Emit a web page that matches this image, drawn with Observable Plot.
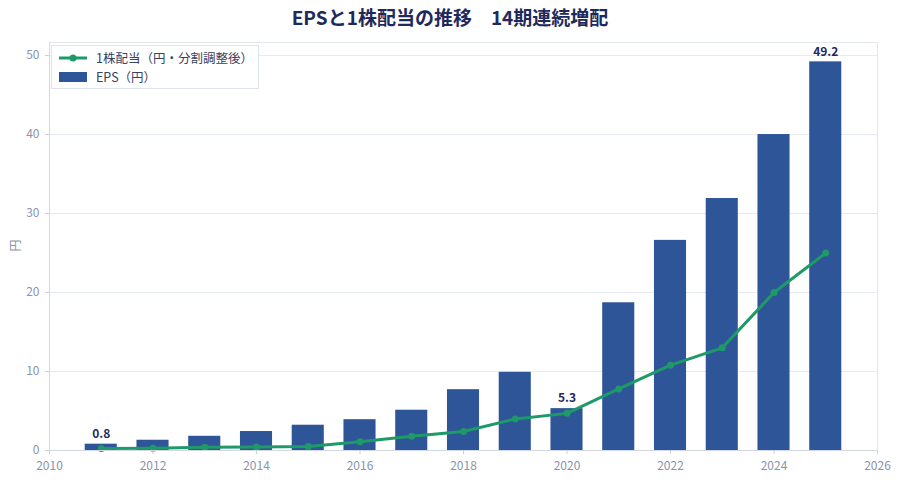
<!DOCTYPE html>
<html><head><meta charset="utf-8">
<script src="https://cdn.jsdelivr.net/npm/d3@7"></script>
<script src="https://cdn.jsdelivr.net/npm/@observablehq/plot@0.6"></script>
<style>
body{margin:0;background:#fff;font-family:"Noto Sans CJK JP","Noto Sans",sans-serif;}
#wrap{position:relative;width:900px;height:480px;}
#title{position:absolute;left:0;top:3px;width:900px;text-align:center;font-size:19px;font-weight:bold;color:#1f2a5c;}
#chart{position:absolute;left:0;top:30px;}
#legend{position:absolute;left:51px;top:45px;width:206px;height:42px;border:1px solid #dde2ec;background:#fff;font-size:12.5px;color:#3a4160;}
.li{position:absolute;left:5px;display:flex;align-items:center;}
</style></head>
<body><div id="wrap">
<div id="title">EPSと1株配当の推移　14期連続増配</div>
<div id="chart"></div>
<div id="legend">
 <div class="li" style="top:2px"><svg width="32" height="16"><line x1="2" x2="30" y1="8" y2="8" stroke="#1e9a68" stroke-width="3"/><circle cx="16" cy="8" r="3.5" fill="#1e9a68"/></svg><span style="margin-left:7px">1株配当（円・分割調整後）</span></div>
 <div class="li" style="top:21px"><svg width="32" height="16"><rect x="2" y="3" width="28" height="10" fill="#2e5597"/></svg><span style="margin-left:7px">EPS（円）</span></div>
</div>
</div>
<script>
const years = [2011,2012,2013,2014,2015,2016,2017,2018,2019,2020,2021,2022,2023,2024,2025];
const eps = [0.8,1.3,1.8,2.4,3.2,3.9,5.1,7.7,9.9,5.3,18.7,26.6,31.9,40.0,49.2];
const dividend = [0.25,0.3,0.4,0.45,0.5,1.1,1.8,2.4,4.0,4.7,7.8,10.8,13.0,20.0,25.0];
const labeledYears = [2011,2020,2025];
const xTicks = [2010,2012,2014,2016,2018,2020,2022,2024,2026];
const yTicks = [0,10,20,30,40,50];

const barData = years.map((y,i)=>({year:y, eps:eps[i]}));
const lineData = years.map((y,i)=>({year:y, div:dividend[i]}));
const labelData = barData.filter(d=>labeledYears.includes(d.year));

const plot = Plot.plot({
  width:900, height:450,
  marginLeft:49, marginRight:23, marginTop:12, marginBottom:30,
  style:{fontFamily:'"Noto Sans CJK JP","Noto Sans",sans-serif', fontSize:"12px", color:"#8a93ad"},
  x:{domain:[2010,2026], ticks:xTicks, tickFormat:d=>String(d), label:null, tickSize:4},
  y:{domain:[0,51.65], ticks:yTicks, label:null, tickSize:4},
  marks:[
    Plot.frame({stroke:"#e3e7f0"}),
    Plot.gridY(yTicks.slice(1), {stroke:"#e6eaf3", strokeOpacity:1}),
    Plot.rectY(barData, {x1:d=>d.year-0.31, x2:d=>d.year+0.31, y1:0, y2:"eps", fill:"#2e5597"}),
    Plot.line(lineData, {x:"year", y:"div", stroke:"#1e9a68", strokeWidth:3}),
    Plot.dot(lineData, {x:"year", y:"div", fill:"#1e9a68", r:3.5}),
    Plot.text(labelData, {x:"year", y:"eps", text:d=>d.eps.toFixed(1), dy:-10, fill:"#1f2a5c", fontWeight:"bold", fontSize:12}),
    Plot.ruleX([2010], {stroke:"#d3d8e4"}),
    Plot.ruleY([0], {stroke:"#d3d8e4"}),
    Plot.axisX({ticks:xTicks, tickFormat:d=>String(d), tickSize:4, tickPadding:7, stroke:"#c9cfdc", fill:"#8a93ad", label:null}),
    Plot.axisY({ticks:yTicks, tickSize:4, tickPadding:6, stroke:"#c9cfdc", fill:"#8a93ad", label:null}),
    Plot.text(["円"], {frameAnchor:"left", dx:-33, dy:5, rotate:-90, fill:"#8a93ad", fontSize:12})
  ]
});
document.getElementById("chart").appendChild(plot);
</script>
</body></html>
